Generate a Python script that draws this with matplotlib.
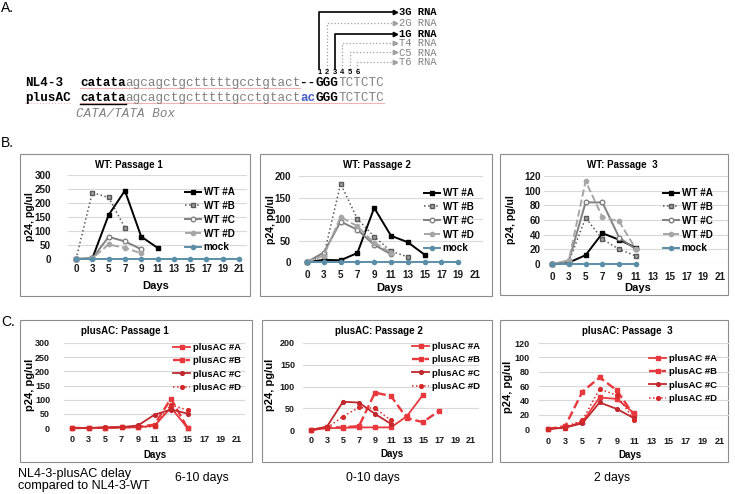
import matplotlib
matplotlib.use('Agg')
import matplotlib.pyplot as plt
from matplotlib.patches import Rectangle

plt.rcParams['font.family'] = ['Liberation Sans', 'DejaVu Sans']
plt.rcParams['font.weight'] = 'bold'

W, H = 735, 494
PT = 100 / 72.0  # pixels per point

# ---- data -------------------------------------------------------------
days = [0, 3, 5, 7, 9, 11, 13, 15, 17, 19, 21]

wt_names = ['WT #A', 'WT #B', 'WT #C', 'WT #D', 'mock']
ac_names = ['plusAC #A', 'plusAC #B', 'plusAC #C', 'plusAC #D']

# WT passage 1
wt1_a = [0, 2, 157, 244, 80, 40]
wt1_b = [0, 237, 220, 112]
wt1_c = [0, 2, 79, 63, 35]
wt1_d = [0, 2, 52, 40, 20]
wt1_mock = [0, 0, 0, 0, 0, 0, 0, 0, 0, 0, 0]

# WT passage 2
wt2_a = [0, 5, 4, 21, 126, 61, 46, 17]
wt2_b = [0, 15, 182, 100, 59, 25, 12]
wt2_c = [0, 22, 94, 75, 40, 18]
wt2_d = [0, 15, 105, 83, 45, 22]
wt2_mock = [0, 0, 0, 0, 0, 0, 0, 0, 0, 0]

# WT passage 3
wt3_a = [0, 2, 12, 42, 33, 22]
wt3_b = [0, 3, 63, 34, 20, 11]
wt3_c = [0, 4, 84, 84, 36, 20]
wt3_d = [0, 5, 113, 64, 58, 20]
wt3_mock = [0, 0, 0, 0, 0, 0]

# plusAC passage 1
ac1_a = [0, 0, 1, 2, 3, 8, 72, 0]
ac1_b = [0, 0, 1, 2, 4, 12, 104, 0]
ac1_c = [0, 0, 2, 3, 9, 47, 65, 51]
ac1_d = [0, 0, 1, 2, 2, 6, 82, 63]

# plusAC passage 2
ac2_a = [0, 4, 5, 6, 6, 6, 32, 81]
ac2_b = [0, 6, 6, 9, 86, 78, 27, 18, 44]
ac2_c = [0, 8, 65, 63, 37, 14]
ac2_d = [0, 5, 31, 52, 50, 22]

# plusAC passage 3
ac3_a = [0, 2, 10, 44, 42, 22]
ac3_b = [0, 4, 52, 72, 54, 19]
ac3_c = [0, 2, 8, 37, 28, 15]
ac3_d = [0, 3, 12, 56, 47, 13]

delay_text = ['6-10 days', '0-10 days', '2 days']

# ---- styles -----------------------------------------------------------
wt_styles = [
    dict(color='black', ls='-', lw=1.4, marker='s', mfc='black', mec='black', ms=3.3),
    dict(color='#595959', ls=':', lw=1.1, marker='s', mfc='#a0a0a0', mec='#595959', ms=3.3),
    dict(color='#808080', ls='-', lw=1.4, marker='o', mfc='white', mec='#808080', ms=3.3),
    dict(color='#a6a6a6', ls='--', lw=1.4, marker='o', mfc='#a6a6a6', mec='#a6a6a6', ms=3.1),
    dict(color='#5b8fa8', ls='-', lw=1.4, marker='o', mfc='#5b8fa8', mec='#5b8fa8', ms=3.0),
]
ac_styles = [
    dict(color='#e8383d', ls='-', lw=1.3, marker='s', mfc='#e8383d', mec='#e8383d', ms=3.1),
    dict(color='#e8383d', ls='--', lw=1.7, marker='s', mfc='#e8383d', mec='#e8383d', ms=3.3),
    dict(color='#c0282d', ls='-', lw=1.3, marker='o', mfc='#c0282d', mec='#c0282d', ms=2.7),
    dict(color='#d42a2a', ls=':', lw=1.1, marker='o', mfc='#d42a2a', mec='#d42a2a', ms=2.7),
]

# font sizes for the two rows
fs_b = dict(tick=7.1, leg=7.1, ylab=7.6, xlab=8.0, title=7.0, lspace=0.39, hlen=1.62)
fs_c = dict(tick=6.5, leg=6.8, ylab=8.0, xlab=7.0, title=7.0, lspace=0.46, hlen=1.8)

charts = [
    dict(series=[wt1_a, wt1_b, wt1_c, wt1_d, wt1_mock], names=wt_names, styles=wt_styles,
         title='WT: Passage 1', box=(20, 154, 250, 296), x0=76, x10=239, ybot=259, ytop=175,
         ymax=300, ystep=50, t_xy=(129, 165), yl_xy=(30, 217), xl_xy=(156, 286),
         ypad=17, xpad=5, leg=(185, 187), fs=fs_b),
    dict(series=[wt2_a, wt2_b, wt2_c, wt2_d, wt2_mock], names=wt_names, styles=wt_styles,
         title='WT: Passage 2', box=(260, 154, 492, 296), x0=307, x10=475, ybot=262, ytop=176,
         ymax=200, ystep=50, t_xy=(377, 165), yl_xy=(271, 220), xl_xy=(390, 288),
         ypad=7.6, xpad=8.5, leg=(424, 188), fs=fs_b),
    dict(series=[wt3_a, wt3_b, wt3_c, wt3_d, wt3_mock], names=wt_names, styles=wt_styles,
         title='WT: Passage  3', box=(500, 154, 728, 295), x0=552, x10=720, ybot=264, ytop=176,
         ymax=120, ystep=20, t_xy=(622, 165), yl_xy=(511, 220), xl_xy=(638, 288),
         ypad=3, xpad=8, leg=(663, 188), fs=fs_b),
    dict(series=[ac1_a, ac1_b, ac1_c, ac1_d], names=ac_names, styles=ac_styles,
         title='plusAC: Passage 1', box=(20, 320, 252, 462), x0=72, x10=237, ybot=428, ytop=343,
         ymax=300, ystep=50, t_xy=(125, 331), yl_xy=(30, 385), xl_xy=(155, 455),
         ypad=13.7, xpad=7.3, leg=(173, 343), fs=fs_c),
    dict(series=[ac2_a, ac2_b, ac2_c, ac2_d], names=ac_names, styles=ac_styles,
         title='plusAC: Passage 2', box=(262, 320, 492, 462), x0=311, x10=471, ybot=430, ytop=343,
         ymax=200, ystep=50, t_xy=(379, 331), yl_xy=(270, 385), xl_xy=(392, 454),
         ypad=8, xpad=6.3, leg=(412, 342), fs=fs_c),
    dict(series=[ac3_a, ac3_b, ac3_c, ac3_d], names=ac_names, styles=ac_styles,
         title='plusAC: Passage  3', box=(500, 320, 728, 462), x0=548, x10=720, ybot=429, ytop=343,
         ymax=120, ystep=20, t_xy=(627, 331), yl_xy=(508, 387), xl_xy=(630, 455),
         ypad=9.4, xpad=8.3, leg=(649, 354), fs=fs_c),
]

fig = plt.figure(figsize=(W / 100, H / 100), dpi=100)

# overlay axes in pixel coordinates for panel A, boxes and free text
ov = fig.add_axes([0, 0, 1, 1])
ov.set_xlim(0, W)
ov.set_ylim(H, 0)
ov.axis('off')

# ---- panel A: sequence ------------------------------------------------
MONO = 'Liberation Mono'
CW = 7.6                     # character width in px
FS = CW / (0.6 * PT)         # matching font size
SX = 80                      # x of first sequence character
gray = '#808080'

ov.text(25, 83, 'NL4-3', family=MONO, fontsize=FS, weight='bold', va='center')
ov.text(25, 98, 'plusAC', family=MONO, fontsize=FS, weight='bold', va='center')

line1 = [('catata', 'black', 'bold'), ('agcagctgctttttgcctgtact', gray, 'normal'),
         ('--', 'black', 'bold'), ('GGG', 'black', 'bold'), ('TCTCTC', gray, 'normal')]
line2 = [('catata', 'black', 'bold'), ('agcagctgctttttgcctgtact', gray, 'normal'),
         ('ac', '#4a5fc4', 'bold'), ('GGG', 'black', 'bold'), ('TCTCTC', gray, 'normal')]
for y, segs in [(83, line1), (98, line2)]:
    pos = 0
    for s, c, w in segs:
        ov.text(SX + pos * CW, y, s, family=MONO, fontsize=FS, color=c, weight=w, va='center')
        pos += len(s)

# spell-check underlines and the TATA box bar
ov.plot([SX, SX + 29 * CW], [88.5, 88.5], color='#f2b3b3', lw=0.8)
ov.plot([SX, SX + 40 * CW], [103.5, 103.5], color='#f2b3b3', lw=0.8)
ov.plot([25, 25 + 6 * CW], [103.5, 103.5], color='#f2b3b3', lw=0.8, ls=':')
ov.plot([SX, SX + 6 * CW], [104.5, 104.5], color='black', lw=1.0)
ov.text(76, 113.5, 'CATA/TATA Box', family=MONO, fontsize=FS, style='italic',
        weight='normal', color=gray, va='center')

# start-site numbers and arrows
rna_labels = ['3G RNA', '2G RNA', '1G RNA', 'T4 RNA', 'C5 RNA', 'T6 RNA']
rna_rows = [12, 23.5, 34, 43.5, 52.5, 62]
rna_solid = [True, False, True, False, False, False]
for k in range(6):
    cx = SX + (31 + k + 0.5) * CW
    ov.text(cx, 73, str(k + 1), fontsize=5.5, weight='bold', ha='center', va='center')
    col = 'black' if rna_solid[k] else '#a0a0a0'
    ls = '-' if rna_solid[k] else ':'
    lw = 1.2 if rna_solid[k] else 0.9
    y = rna_rows[k]
    ov.plot([cx, cx, 394], [69.5, y, y], color=col, ls=ls, lw=lw)
    ov.plot([395.5], [y], marker='>', ms=3.2, color=col, mec=col)
    ov.text(399, y, rna_labels[k], family=MONO, fontsize=7.6,
            color='black' if rna_solid[k] else gray,
            weight='bold' if rna_solid[k] else 'normal', va='center')

# panel letters
for lab, y in [('A.', 8), ('B.', 143), ('C.', 322)]:
    ov.text(1, y, lab, fontsize=10, weight='normal', va='center')

# ---- panels B and C ---------------------------------------------------
for ch in charts:
    fs = ch['fs']
    bx0, by0, bx1, by1 = ch['box']
    ov.add_patch(Rectangle((bx0, by0), bx1 - bx0, by1 - by0, fill=False, ec='#8c8c8c', lw=0.8))

    step = (ch['x10'] - ch['x0']) / 10.0
    left = ch['x0'] - step / 2
    right = ch['x10'] + step / 2
    ax = fig.add_axes([left / W, 1 - ch['ybot'] / H, (right - left) / W,
                       (ch['ybot'] - ch['ytop']) / H])
    ax.set_facecolor('none')
    handles = []
    for vals, name, st in zip(ch['series'], ch['names'], ch['styles']):
        ln, = ax.plot(range(len(vals)), vals, label=name, clip_on=False, zorder=3, **st)
        handles.append(ln)
    ax.set_xlim(-0.5, 10.5)
    ax.set_ylim(0, ch['ymax'])
    ax.set_xticks(range(len(days)), labels=[str(d) for d in days], fontweight='bold')
    yt = list(range(0, ch['ymax'] + 1, ch['ystep']))
    ax.set_yticks(yt, labels=[str(v) for v in yt], fontweight='bold')
    for sp in ax.spines.values():
        sp.set_visible(False)
    ax.yaxis.grid(True, color='#d9d9d9', lw=0.8)
    ax.set_axisbelow(True)
    ax.tick_params(axis='both', length=0, labelsize=fs['tick'], labelcolor='#1a1a1a')
    ax.tick_params(axis='y', pad=ch['ypad'] / PT)
    ax.tick_params(axis='x', pad=ch['xpad'] / PT)

    lx, ly = ch['leg']
    ax.legend(handles=handles, loc='upper left', bbox_to_anchor=(lx / W, 1 - ly / H),
              bbox_transform=fig.transFigure, frameon=False,
              prop={'size': fs['leg'], 'weight': 'bold'},
              handlelength=fs['hlen'], handletextpad=0.28, labelspacing=fs['lspace'],
              borderpad=0, borderaxespad=0, numpoints=1)

    ov.text(*ch['t_xy'], ch['title'], fontsize=fs['title'], weight='bold', ha='center',
            va='center')
    ov.text(*ch['yl_xy'], 'p24, pg/ul', fontsize=fs['ylab'], weight='bold', rotation=90,
            ha='center', va='center')
    ov.text(*ch['xl_xy'], 'Days', fontsize=fs['xlab'], weight='bold', ha='center', va='center')

# ---- delay row --------------------------------------------------------
ov.text(18, 480, 'NL4-3-plusAC delay\ncompared to NL4-3-WT', fontsize=9.1, weight='normal',
        va='center', linespacing=1.1)
for cx, s in zip([202, 373, 612], delay_text):
    ov.text(cx, 478, s, fontsize=8.8, weight='normal', ha='center', va='center')

fig.savefig('out.png', dpi=100)
